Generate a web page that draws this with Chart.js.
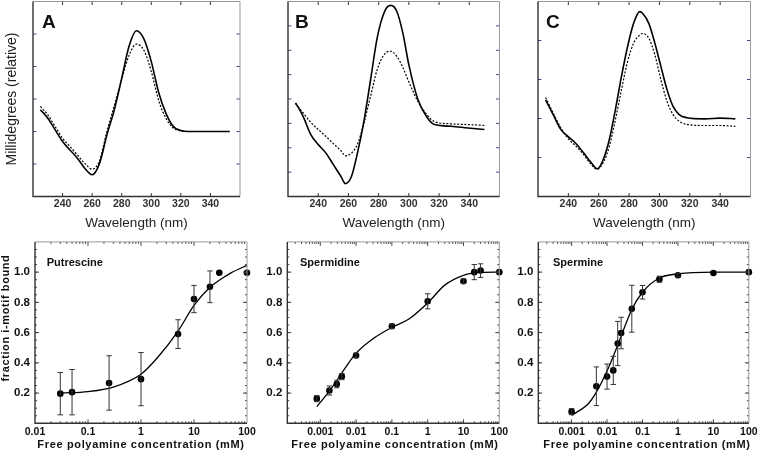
<!DOCTYPE html>
<html>
<head>
<meta charset="utf-8">
<script src="https://cdn.jsdelivr.net/npm/chart.js@4.4.1/dist/chart.umd.min.js"></script>
<style>
  body { margin: 0; background: #fff; }
  #wrap { position: relative; width: 760px; height: 452px; overflow: hidden; background: #fff; }
  canvas { position: absolute; }
</style>
</head>
<body>
<div id="wrap"></div>
<script>
// CD spectra, top row (wavelength nm -> millidegrees, relative units)
const wlA = [225, 230, 235, 240, 245, 250, 255, 260, 265, 270, 275, 280, 285, 290, 295, 300, 305, 310, 315, 320, 325, 335, 353];
const cdA_solid = [2.67, 2.41, 2.05, 1.69, 1.43, 1.18, 0.87, 0.67, 1.02, 1.9, 2.67, 3.64, 4.63, 5.1, 4.85, 4.15, 3.2, 2.55, 2.15, 2.03, 2.0, 2.0, 2.0];
const cdA_dotted = [2.77, 2.51, 2.15, 1.79, 1.54, 1.28, 1.02, 0.84, 1.1, 2.0, 2.8, 3.6, 4.35, 4.69, 4.5, 3.85, 2.95, 2.4, 2.1, 2.02, 2.0, 2.0, 2.0];

const wlB = [225, 230, 235, 240, 245, 250, 255, 258, 262, 266, 270, 275, 279, 284, 288, 292, 296, 300, 306, 312, 317, 328, 339, 350];
const cdB_solid = [3.84, 3.29, 2.55, 2.13, 1.79, 1.31, 0.83, 0.53, 0.82, 1.79, 3.0, 4.93, 6.5, 7.6, 7.84, 7.6, 6.71, 5.4, 3.98, 3.25, 2.95, 2.88, 2.81, 2.75];
const cdB_dotted = [3.81, 3.43, 3.05, 2.75, 2.47, 2.17, 1.88, 1.67, 1.78, 2.15, 2.95, 4.2, 5.2, 5.85, 5.96, 5.75, 5.3, 4.7, 3.9, 3.35, 3.07, 2.98, 2.95, 2.92];

const wlC = [225, 230, 235, 240, 245, 250, 255, 259, 263, 267, 271, 275, 279, 283, 287, 289, 293, 297, 301, 305, 309, 313, 318, 330, 340, 350];
const cdC_solid = [2.48, 2.1, 1.72, 1.53, 1.36, 1.12, 0.87, 0.71, 0.95, 1.46, 2.23, 3.08, 3.84, 4.44, 4.74, 4.69, 4.44, 3.93, 3.33, 2.74, 2.31, 2.1, 2.02, 1.99, 2.01, 1.99];
const cdC_dotted = [2.54, 2.14, 1.76, 1.48, 1.29, 1.08, 0.82, 0.7, 0.87, 1.29, 1.97, 2.74, 3.46, 3.93, 4.14, 4.18, 4.06, 3.63, 2.99, 2.44, 2.1, 1.93, 1.85, 1.82, 1.82, 1.8];

// binding curves, bottom row (free polyamine mM -> fraction i-motif bound)
const putConc = [0.03, 0.05, 0.25, 1, 5, 10, 20, 30, 100];
const putFrac = [0.196, 0.206, 0.267, 0.292, 0.59, 0.822, 0.903, 0.996, 0.996];
const putErr = [0.14, 0.15, 0.18, 0.176, 0.095, 0.09, 0.105, 0, 0];
const putFitConc = [0.03, 0.1, 0.3, 1, 2, 5, 10, 20, 30, 50, 100];
const putFitFrac = [0.2, 0.21, 0.24, 0.325, 0.43, 0.61, 0.78, 0.9, 0.946, 0.995, 1.045];

const spdConc = [0.0008, 0.0018, 0.0029, 0.004, 0.01, 0.1, 1, 10, 20, 30, 100];
const spdFrac = [0.163, 0.217, 0.26, 0.309, 0.449, 0.642, 0.807, 0.94, 1.0, 1.01, 1.0];
const spdErr = [0.02, 0.03, 0.025, 0.02, 0.015, 0.015, 0.05, 0.015, 0.05, 0.045, 0];
const spdFitConc = [0.0008, 0.002, 0.005, 0.01, 0.03, 0.1, 0.3, 1, 3, 10, 30, 100];
const spdFitFrac = [0.11, 0.228, 0.367, 0.464, 0.56, 0.635, 0.69, 0.796, 0.914, 0.979, 0.998, 1.0];

const sprConc = [0.001, 0.005, 0.01, 0.015, 0.02, 0.025, 0.05, 0.1, 0.3, 1, 10, 100];
const sprFrac = [0.077, 0.245, 0.309, 0.35, 0.528, 0.597, 0.758, 0.867, 0.953, 0.979, 0.994, 1.0];
const sprErr = [0.02, 0.128, 0.083, 0.093, 0.146, 0.104, 0.155, 0.045, 0.02, 0.01, 0, 0];
const sprFitConc = [0.001, 0.003, 0.005, 0.01, 0.02, 0.05, 0.1, 0.3, 1, 10, 100];
const sprFitFrac = [0.052, 0.131, 0.206, 0.346, 0.517, 0.753, 0.867, 0.961, 0.989, 1.0, 1.0];

// tick labels
const wlTicks = [240, 260, 280, 300, 320, 340];
const fracTicks = [0.2, 0.4, 0.6, 0.8, 1.0];
const concTicksA = [0.01, 0.1, 1, 10, 100];
const concTicksBC = [0.001, 0.01, 0.1, 1, 10, 100];

const FONT = "'Liberation Sans', Arial, Helvetica, sans-serif";
Chart.defaults.font.family = FONT;
Chart.defaults.color = '#222';

const pts = (xs, ys) => xs.map((x, i) => ({ x, y: ys[i] }));

function minorLog(lo, hi) {
  const out = [];
  for (let e = lo; e < hi; e++) {
    for (let k = 2; k <= 9; k++) out.push(k * Math.pow(10, e));
  }
  return out;
}
const fracMinor = [];
for (let i = 1; i < 24; i++) fracMinor.push(i * 0.05);

// frame, inward ticks, error bars, free text
const framePlugin = {
  id: 'frame',
  afterDatasetsDraw(chart) {
    const { ctx, scales: { x, y } } = chart;
    chart.data.datasets.forEach(ds => {
      if (!ds.errors) return;
      ctx.save();
      ctx.strokeStyle = '#333';
      ctx.lineWidth = 1;
      ds.data.forEach((p, i) => {
        const e = ds.errors[i];
        if (!e) return;
        const px = x.getPixelForValue(p.x);
        const t = y.getPixelForValue(p.y + e);
        const b = y.getPixelForValue(p.y - e);
        ctx.beginPath();
        ctx.moveTo(px, t); ctx.lineTo(px, b);
        ctx.moveTo(px - 2.7, t); ctx.lineTo(px + 2.7, t);
        ctx.moveTo(px - 2.7, b); ctx.lineTo(px + 2.7, b);
        ctx.stroke();
      });
      ctx.restore();
    });
  },
  afterDraw(chart, args, o) {
    const { ctx, chartArea: a, scales: { x, y } } = chart;
    ctx.save();
    ctx.lineWidth = 1;
    const xt = (vals, len) => vals.forEach(v => {
      const px = x.getPixelForValue(v);
      if (px < a.left + 1 || px > a.right - 1) return;
      ctx.beginPath();
      ctx.moveTo(px, a.bottom); ctx.lineTo(px, a.bottom - len);
      ctx.moveTo(px, a.top); ctx.lineTo(px, a.top + len);
      ctx.stroke();
    });
    const yt = (vals, len) => vals.forEach(v => {
      const py = y.getPixelForValue(v);
      ctx.beginPath();
      ctx.moveTo(a.left, py); ctx.lineTo(a.left + len, py);
      ctx.moveTo(a.right, py); ctx.lineTo(a.right - len, py);
      ctx.stroke();
    });
    ctx.strokeStyle = o.xTickColor;
    xt(o.xMajor, o.majorLen);
    xt(o.xMinor, o.minorLen);
    ctx.strokeStyle = o.yTickColor;
    yt(o.yMajor, o.majorLen);
    yt(o.yMinor, o.minorLen);

    ctx.strokeStyle = '#999';
    ctx.lineWidth = 1;
    ctx.beginPath();
    ctx.moveTo(a.left, a.top); ctx.lineTo(a.right, a.top); ctx.lineTo(a.right, a.bottom);
    ctx.stroke();
    ctx.strokeStyle = '#333';
    ctx.lineWidth = 1.4;
    ctx.beginPath();
    ctx.moveTo(a.left, a.top); ctx.lineTo(a.left, a.bottom); ctx.lineTo(a.right, a.bottom);
    ctx.stroke();

    // free text in page coordinates
    ctx.translate(-o.left, -o.top);
    o.texts.forEach(t => {
      ctx.save();
      ctx.font = t.font;
      ctx.fillStyle = '#111';
      ctx.letterSpacing = t.spacing || '0px';
      ctx.textAlign = t.align || 'left';
      ctx.textBaseline = t.baseline || 'middle';
      ctx.translate(t.x, t.y);
      if (t.rot) ctx.rotate(t.rot);
      ctx.fillText(t.text, 0, 0);
      ctx.restore();
    });
    ctx.restore();
  }
};
Chart.register(framePlugin);

function addCanvas(left, top, w, h) {
  const c = document.createElement('canvas');
  c.width = w; c.height = h;
  c.style.left = left + 'px';
  c.style.top = top + 'px';
  document.getElementById('wrap').appendChild(c);
  return c;
}

function spectrum(p) {
  const c = addCanvas(p.left, 0, p.w, 231);
  return new Chart(c, {
    type: 'scatter',
    data: {
      datasets: [
        { data: pts(p.wl, p.solid), showLine: true, borderColor: '#000', borderWidth: 1.6,
          pointRadius: 0, cubicInterpolationMode: 'monotone', clip: false },
        { data: pts(p.wl, p.dotted), showLine: true, borderColor: '#000', borderWidth: 1.2,
          borderDash: [2, 1.6], pointRadius: 0, cubicInterpolationMode: 'monotone', clip: false }
      ]
    },
    options: {
      responsive: false, animation: false, events: [],
      layout: { padding: { left: 0, top: 1.5, right: p.padRight, bottom: 0 } },
      plugins: {
        legend: { display: false }, tooltip: { enabled: false },
        frame: {
          left: p.left, top: 0,
          xMajor: wlTicks, xMinor: [], yMajor: p.yTicks, yMinor: [],
          majorLen: 3.5, minorLen: 2, xTickColor: '#333', yTickColor: '#4a4a80',
          texts: [{ text: p.letter, font: 'bold 19px ' + FONT, x: p.letterX, y: 28, baseline: 'alphabetic' }]
        }
      },
      scales: {
        x: {
          type: 'linear', min: 220, max: 360,
          grid: { display: false, drawTicks: false }, border: { display: false },
          afterBuildTicks: s => { s.ticks = wlTicks.map(v => ({ value: v })); },
          afterFit: s => { s.height = 34.5; },
          ticks: { font: { size: 10.5, weight: 'bold' }, color: '#333', padding: 1.5, maxRotation: 0, autoSkip: false },
          title: { display: true, text: 'Wavelength (nm)', font: { size: 13.5 }, color: '#222', padding: { top: 0, bottom: 0 } }
        },
        y: {
          min: 0, max: p.yMax,
          grid: { display: false, drawTicks: false }, border: { display: false },
          ticks: { display: false },
          afterFit: s => { s.width = p.yWidth; },
          title: { display: !!p.yTitle, text: 'Millidegrees (relative)', font: { size: 14 }, color: '#222', padding: { top: 4, bottom: 4 } }
        }
      }
    }
  });
}

function binding(p) {
  const c = addCanvas(p.left, 230, p.w, 222);
  const texts = [
    { text: p.name, font: 'bold 11px ' + FONT, x: p.nameX, y: 262.5 },
    { text: 'Free polyamine concentration (mM)', font: 'bold 11px ' + FONT, spacing: '0.65px',
      x: p.titleX, y: 444.5, align: 'center' }
  ];
  if (p.yTitle) {
    texts.push({ text: 'fraction i-motif bound', font: 'bold 11px ' + FONT, spacing: '0.6px',
      x: 6, y: 318, align: 'center', rot: -Math.PI / 2 });
  }
  return new Chart(c, {
    type: 'scatter',
    data: {
      datasets: [
        { data: pts(p.fitX, p.fitY), showLine: true, borderColor: '#000', borderWidth: 1.3,
          pointRadius: 0, cubicInterpolationMode: 'monotone', clip: false },
        { data: pts(p.x, p.y), errors: p.err, pointRadius: 3.3, pointBackgroundColor: '#000',
          pointBorderColor: '#000', pointBorderWidth: 0, clip: false }
      ]
    },
    options: {
      responsive: false, animation: false, events: [],
      layout: { padding: { left: 0, top: 6.7, right: p.padRight, bottom: 0 } },
      plugins: {
        legend: { display: false }, tooltip: { enabled: false },
        frame: {
          left: p.left, top: 230,
          xMajor: p.xTicks, xMinor: p.xMinor, yMajor: fracTicks, yMinor: fracMinor,
          majorLen: 4, minorLen: 2, xTickColor: '#444', yTickColor: '#444',
          texts
        }
      },
      scales: {
        x: {
          type: 'logarithmic', min: p.xMin, max: 100,
          grid: { display: false, drawTicks: false }, border: { display: false },
          afterBuildTicks: s => { s.ticks = p.xTicks.map(v => ({ value: v })); },
          afterFit: s => { s.height = 28.7; },
          ticks: { font: { size: 10.5, weight: 'bold' }, color: '#111', padding: 2.4, maxRotation: 0,
            autoSkip: false, callback: v => String(v) }
        },
        y: {
          min: 0, max: 1.2,
          grid: { display: false, drawTicks: false }, border: { display: false },
          afterBuildTicks: s => { s.ticks = fracTicks.map(v => ({ value: v })); },
          afterFit: s => { s.width = p.yWidth; },
          ticks: { font: { size: 11.5, weight: 'bold' }, color: '#111', padding: 5, callback: v => v.toFixed(1) }
        }
      }
    }
  });
}

spectrum({ left: 0, w: 250, yWidth: 33, padRight: 10, wl: wlA, solid: cdA_solid, dotted: cdA_dotted,
  yMax: 6, yTicks: [1, 2, 3, 4, 5], yTitle: true, letter: 'A', letterX: 42 });
spectrum({ left: 250, w: 255, yWidth: 38, padRight: 5.5, wl: wlB, solid: cdB_solid, dotted: cdB_dotted,
  yMax: 8, yTicks: [1, 2, 3, 4, 5, 6, 7], letter: 'B', letterX: 295 });
spectrum({ left: 500, w: 260, yWidth: 38, padRight: 9.5, wl: wlC, solid: cdC_solid, dotted: cdC_dotted,
  yMax: 5, yTicks: [1, 2, 3, 4], letter: 'C', letterX: 546 });

binding({ left: 0, w: 262, yWidth: 35, padRight: 15, xMin: 0.01, xTicks: concTicksA, xMinor: minorLog(-2, 2),
  x: putConc, y: putFrac, err: putErr, fitX: putFitConc, fitY: putFitFrac,
  name: 'Putrescine', nameX: 46.7, titleX: 141, yTitle: true });
binding({ left: 250, w: 262, yWidth: 37.3, padRight: 12.7, xMin: 0.00012, xTicks: concTicksBC, xMinor: minorLog(-4, 2),
  x: spdConc, y: spdFrac, err: spdErr, fitX: spdFitConc, fitY: spdFitFrac,
  name: 'Spermidine', nameX: 300, titleX: 395 });
binding({ left: 500, w: 260, yWidth: 38.3, padRight: 9.3, xMin: 0.000115, xTicks: concTicksBC, xMinor: minorLog(-4, 2),
  x: sprConc, y: sprFrac, err: sprErr, fitX: sprFitConc, fitY: sprFitFrac,
  name: 'Spermine', nameX: 553, titleX: 647 });
</script>
</body>
</html>
